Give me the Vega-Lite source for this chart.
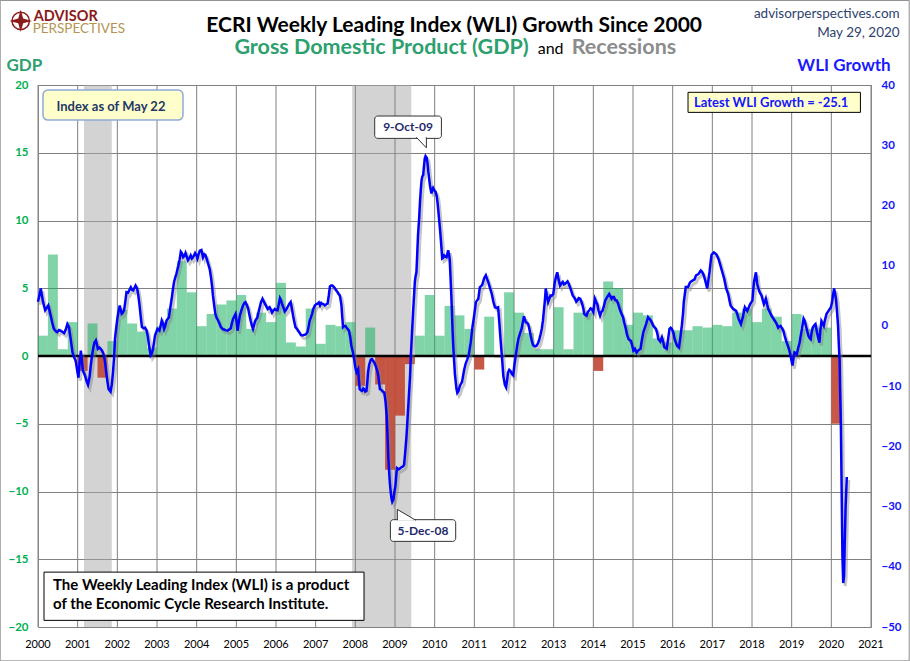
{
  "$schema": "https://vega.github.io/schema/vega-lite/v6.json",
  "width": 833,
  "height": 542,
  "autosize": {"type": "none"},
  "padding": {"left": 38, "top": 85, "right": 39, "bottom": 34},
  "background": "white",
  "config": {
    "font": "Lato",
    "view": {"stroke": "#8c8c8c", "strokeWidth": 1}
  },
  "datasets": {
    "years": [
      {"year": 2000}, {"year": 2001}, {"year": 2002}, {"year": 2003}, {"year": 2004}, {"year": 2005},
      {"year": 2006}, {"year": 2007}, {"year": 2008}, {"year": 2009}, {"year": 2010}, {"year": 2011},
      {"year": 2012}, {"year": 2013}, {"year": 2014}, {"year": 2015}, {"year": 2016}, {"year": 2017},
      {"year": 2018}, {"year": 2019}, {"year": 2020}, {"year": 2021}
    ],
    "recessions": [
      {"start": 2001.16, "end": 2001.86},
      {"start": 2007.92, "end": 2009.41}
    ],
    "gdp": [
      {"t0": 2000.00, "t1": 2000.25, "gdp": 1.5},
      {"t0": 2000.25, "t1": 2000.50, "gdp": 7.5},
      {"t0": 2000.50, "t1": 2000.75, "gdp": 0.5},
      {"t0": 2000.75, "t1": 2001.00, "gdp": 2.5},
      {"t0": 2001.00, "t1": 2001.25, "gdp": -1.1},
      {"t0": 2001.25, "t1": 2001.50, "gdp": 2.4},
      {"t0": 2001.50, "t1": 2001.75, "gdp": -1.6},
      {"t0": 2001.75, "t1": 2002.00, "gdp": 1.1},
      {"t0": 2002.00, "t1": 2002.25, "gdp": 3.4},
      {"t0": 2002.25, "t1": 2002.50, "gdp": 2.4},
      {"t0": 2002.50, "t1": 2002.75, "gdp": 1.8},
      {"t0": 2002.75, "t1": 2003.00, "gdp": 0.6},
      {"t0": 2003.00, "t1": 2003.25, "gdp": 2.2},
      {"t0": 2003.25, "t1": 2003.50, "gdp": 3.5},
      {"t0": 2003.50, "t1": 2003.75, "gdp": 7.0},
      {"t0": 2003.75, "t1": 2004.00, "gdp": 4.7},
      {"t0": 2004.00, "t1": 2004.25, "gdp": 2.2},
      {"t0": 2004.25, "t1": 2004.50, "gdp": 3.1},
      {"t0": 2004.50, "t1": 2004.75, "gdp": 3.8},
      {"t0": 2004.75, "t1": 2005.00, "gdp": 4.1},
      {"t0": 2005.00, "t1": 2005.25, "gdp": 4.5},
      {"t0": 2005.25, "t1": 2005.50, "gdp": 2.0},
      {"t0": 2005.50, "t1": 2005.75, "gdp": 3.2},
      {"t0": 2005.75, "t1": 2006.00, "gdp": 2.5},
      {"t0": 2006.00, "t1": 2006.25, "gdp": 5.4},
      {"t0": 2006.25, "t1": 2006.50, "gdp": 1.0},
      {"t0": 2006.50, "t1": 2006.75, "gdp": 0.7},
      {"t0": 2006.75, "t1": 2007.00, "gdp": 3.5},
      {"t0": 2007.00, "t1": 2007.25, "gdp": 0.9},
      {"t0": 2007.25, "t1": 2007.50, "gdp": 2.3},
      {"t0": 2007.50, "t1": 2007.75, "gdp": 2.2},
      {"t0": 2007.75, "t1": 2008.00, "gdp": 2.5},
      {"t0": 2008.00, "t1": 2008.25, "gdp": -2.2},
      {"t0": 2008.25, "t1": 2008.50, "gdp": 2.1},
      {"t0": 2008.50, "t1": 2008.75, "gdp": -2.1},
      {"t0": 2008.75, "t1": 2009.00, "gdp": -8.4},
      {"t0": 2009.00, "t1": 2009.25, "gdp": -4.4},
      {"t0": 2009.25, "t1": 2009.50, "gdp": -0.6},
      {"t0": 2009.50, "t1": 2009.75, "gdp": 1.5},
      {"t0": 2009.75, "t1": 2010.00, "gdp": 4.5},
      {"t0": 2010.00, "t1": 2010.25, "gdp": 1.5},
      {"t0": 2010.25, "t1": 2010.50, "gdp": 3.7},
      {"t0": 2010.50, "t1": 2010.75, "gdp": 3.0},
      {"t0": 2010.75, "t1": 2011.00, "gdp": 2.0},
      {"t0": 2011.00, "t1": 2011.25, "gdp": -1.0},
      {"t0": 2011.25, "t1": 2011.50, "gdp": 2.9},
      {"t0": 2011.50, "t1": 2011.75, "gdp": -0.1},
      {"t0": 2011.75, "t1": 2012.00, "gdp": 4.7},
      {"t0": 2012.00, "t1": 2012.25, "gdp": 3.2},
      {"t0": 2012.25, "t1": 2012.50, "gdp": 1.7},
      {"t0": 2012.50, "t1": 2012.75, "gdp": 0.5},
      {"t0": 2012.75, "t1": 2013.00, "gdp": 0.5},
      {"t0": 2013.00, "t1": 2013.25, "gdp": 3.6},
      {"t0": 2013.25, "t1": 2013.50, "gdp": 0.5},
      {"t0": 2013.50, "t1": 2013.75, "gdp": 3.2},
      {"t0": 2013.75, "t1": 2014.00, "gdp": 3.2},
      {"t0": 2014.00, "t1": 2014.25, "gdp": -1.1},
      {"t0": 2014.25, "t1": 2014.50, "gdp": 5.5},
      {"t0": 2014.50, "t1": 2014.75, "gdp": 5.0},
      {"t0": 2014.75, "t1": 2015.00, "gdp": 2.3},
      {"t0": 2015.00, "t1": 2015.25, "gdp": 3.2},
      {"t0": 2015.25, "t1": 2015.50, "gdp": 3.0},
      {"t0": 2015.50, "t1": 2015.75, "gdp": 1.3},
      {"t0": 2015.75, "t1": 2016.00, "gdp": 1.0},
      {"t0": 2016.00, "t1": 2016.25, "gdp": 1.9},
      {"t0": 2016.25, "t1": 2016.50, "gdp": 1.9},
      {"t0": 2016.50, "t1": 2016.75, "gdp": 2.2},
      {"t0": 2016.75, "t1": 2017.00, "gdp": 2.1},
      {"t0": 2017.00, "t1": 2017.25, "gdp": 2.3},
      {"t0": 2017.25, "t1": 2017.50, "gdp": 2.2},
      {"t0": 2017.50, "t1": 2017.75, "gdp": 3.2},
      {"t0": 2017.75, "t1": 2018.00, "gdp": 3.5},
      {"t0": 2018.00, "t1": 2018.25, "gdp": 2.5},
      {"t0": 2018.25, "t1": 2018.50, "gdp": 3.5},
      {"t0": 2018.50, "t1": 2018.75, "gdp": 2.9},
      {"t0": 2018.75, "t1": 2019.00, "gdp": 1.1},
      {"t0": 2019.00, "t1": 2019.25, "gdp": 3.1},
      {"t0": 2019.25, "t1": 2019.50, "gdp": 2.0},
      {"t0": 2019.50, "t1": 2019.75, "gdp": 2.1},
      {"t0": 2019.75, "t1": 2020.00, "gdp": 2.1},
      {"t0": 2020.00, "t1": 2020.25, "gdp": -5.0}
    ],
    "wli": [
      {"t": 2000.00, "w": 4.0}, {"t": 2000.04, "w": 5.2}, {"t": 2000.07, "w": 6.2}, {"t": 2000.10, "w": 5.0},
      {"t": 2000.13, "w": 3.9}, {"t": 2000.18, "w": 2.6}, {"t": 2000.22, "w": 3.0}, {"t": 2000.26, "w": 3.4},
      {"t": 2000.32, "w": 1.7}, {"t": 2000.36, "w": 0.5}, {"t": 2000.40, "w": -0.5}, {"t": 2000.45, "w": -0.9},
      {"t": 2000.49, "w": -1.05}, {"t": 2000.53, "w": -0.7}, {"t": 2000.57, "w": -0.8}, {"t": 2000.62, "w": -1.0},
      {"t": 2000.66, "w": -1.2}, {"t": 2000.70, "w": -0.6}, {"t": 2000.74, "w": 0.3}, {"t": 2000.78, "w": -0.2},
      {"t": 2000.82, "w": -2.0}, {"t": 2000.87, "w": -4.4}, {"t": 2000.91, "w": -5.2}, {"t": 2000.95, "w": -5.8},
      {"t": 2000.99, "w": -7.5}, {"t": 2001.02, "w": -8.6}, {"t": 2001.05, "w": -6.0}, {"t": 2001.08, "w": -4.1},
      {"t": 2001.11, "w": -6.0}, {"t": 2001.13, "w": -7.4}, {"t": 2001.17, "w": -8.0}, {"t": 2001.20, "w": -8.6},
      {"t": 2001.23, "w": -9.3}, {"t": 2001.26, "w": -9.8}, {"t": 2001.30, "w": -8.5}, {"t": 2001.33, "w": -6.6},
      {"t": 2001.36, "w": -5.0}, {"t": 2001.39, "w": -3.8}, {"t": 2001.42, "w": -2.8}, {"t": 2001.46, "w": -2.4},
      {"t": 2001.49, "w": -3.2}, {"t": 2001.51, "w": -3.8}, {"t": 2001.55, "w": -3.6}, {"t": 2001.58, "w": -3.8},
      {"t": 2001.62, "w": -4.2}, {"t": 2001.66, "w": -4.9}, {"t": 2001.69, "w": -6.0}, {"t": 2001.72, "w": -7.7},
      {"t": 2001.75, "w": -9.2}, {"t": 2001.78, "w": -10.5}, {"t": 2001.83, "w": -10.9}, {"t": 2001.86, "w": -9.8},
      {"t": 2001.89, "w": -7.7}, {"t": 2001.92, "w": -5.0}, {"t": 2001.94, "w": -2.2}, {"t": 2001.97, "w": -0.4},
      {"t": 2002.00, "w": 1.2}, {"t": 2002.03, "w": 2.4}, {"t": 2002.06, "w": 3.4}, {"t": 2002.11, "w": 2.0},
      {"t": 2002.14, "w": 2.2}, {"t": 2002.17, "w": 2.6}, {"t": 2002.20, "w": 4.0}, {"t": 2002.23, "w": 5.6},
      {"t": 2002.27, "w": 5.5}, {"t": 2002.30, "w": 5.9}, {"t": 2002.34, "w": 6.4}, {"t": 2002.37, "w": 6.0},
      {"t": 2002.40, "w": 5.9}, {"t": 2002.43, "w": 6.3}, {"t": 2002.46, "w": 6.7}, {"t": 2002.50, "w": 6.2},
      {"t": 2002.53, "w": 5.0}, {"t": 2002.56, "w": 3.4}, {"t": 2002.59, "w": 1.5}, {"t": 2002.62, "w": -0.2},
      {"t": 2002.67, "w": -0.4}, {"t": 2002.70, "w": -0.3}, {"t": 2002.74, "w": -0.8}, {"t": 2002.77, "w": -1.8},
      {"t": 2002.80, "w": -3.3}, {"t": 2002.84, "w": -4.9}, {"t": 2002.87, "w": -4.6}, {"t": 2002.90, "w": -3.8},
      {"t": 2002.95, "w": -1.6}, {"t": 2003.01, "w": -0.5}, {"t": 2003.06, "w": -0.8}, {"t": 2003.09, "w": 0.0},
      {"t": 2003.12, "w": 0.9}, {"t": 2003.15, "w": 0.4}, {"t": 2003.18, "w": -0.5}, {"t": 2003.21, "w": 0.0},
      {"t": 2003.24, "w": 0.9}, {"t": 2003.30, "w": 1.4}, {"t": 2003.33, "w": 2.8}, {"t": 2003.37, "w": 4.5},
      {"t": 2003.40, "w": 6.0}, {"t": 2003.43, "w": 7.3}, {"t": 2003.46, "w": 8.0}, {"t": 2003.49, "w": 8.7},
      {"t": 2003.54, "w": 10.05}, {"t": 2003.57, "w": 11.0}, {"t": 2003.60, "w": 12.3}, {"t": 2003.63, "w": 12.0},
      {"t": 2003.66, "w": 11.4}, {"t": 2003.69, "w": 11.6}, {"t": 2003.72, "w": 12.1}, {"t": 2003.75, "w": 11.5},
      {"t": 2003.78, "w": 10.9}, {"t": 2003.82, "w": 11.3}, {"t": 2003.85, "w": 11.7}, {"t": 2003.88, "w": 11.2},
      {"t": 2003.91, "w": 11.4}, {"t": 2003.96, "w": 12.1}, {"t": 2004.00, "w": 11.6}, {"t": 2004.02, "w": 11.2},
      {"t": 2004.05, "w": 11.9}, {"t": 2004.08, "w": 12.5}, {"t": 2004.12, "w": 12.6}, {"t": 2004.16, "w": 11.4},
      {"t": 2004.19, "w": 11.9}, {"t": 2004.22, "w": 11.8}, {"t": 2004.25, "w": 11.2}, {"t": 2004.29, "w": 10.3},
      {"t": 2004.33, "w": 9.4}, {"t": 2004.36, "w": 8.1}, {"t": 2004.39, "w": 6.5}, {"t": 2004.41, "w": 5.05},
      {"t": 2004.44, "w": 3.5}, {"t": 2004.47, "w": 2.0}, {"t": 2004.50, "w": 1.4}, {"t": 2004.54, "w": 0.9},
      {"t": 2004.58, "w": 0.3}, {"t": 2004.61, "w": -0.2}, {"t": 2004.65, "w": -0.5}, {"t": 2004.69, "w": -0.6},
      {"t": 2004.73, "w": -0.7}, {"t": 2004.78, "w": -0.8}, {"t": 2004.82, "w": -0.6}, {"t": 2004.86, "w": -0.4},
      {"t": 2004.89, "w": 0.5}, {"t": 2004.92, "w": 1.2}, {"t": 2004.95, "w": 1.6}, {"t": 2004.98, "w": 2.0},
      {"t": 2005.01, "w": 0.6}, {"t": 2005.03, "w": -0.8}, {"t": 2005.06, "w": 0.5}, {"t": 2005.09, "w": 1.7},
      {"t": 2005.13, "w": 2.6}, {"t": 2005.17, "w": 3.4}, {"t": 2005.20, "w": 3.8}, {"t": 2005.23, "w": 3.95},
      {"t": 2005.27, "w": 3.4}, {"t": 2005.30, "w": 2.8}, {"t": 2005.33, "w": 1.8}, {"t": 2005.36, "w": 0.9},
      {"t": 2005.39, "w": 0.1}, {"t": 2005.42, "w": -0.5}, {"t": 2005.45, "w": 0.2}, {"t": 2005.48, "w": 0.9},
      {"t": 2005.53, "w": 1.4}, {"t": 2005.56, "w": 2.3}, {"t": 2005.59, "w": 3.1}, {"t": 2005.62, "w": 3.9},
      {"t": 2005.66, "w": 4.5}, {"t": 2005.69, "w": 4.1}, {"t": 2005.72, "w": 3.7}, {"t": 2005.76, "w": 3.2},
      {"t": 2005.79, "w": 2.8}, {"t": 2005.84, "w": 3.1}, {"t": 2005.87, "w": 2.7}, {"t": 2005.90, "w": 2.2},
      {"t": 2005.94, "w": 2.6}, {"t": 2005.97, "w": 2.8}, {"t": 2006.01, "w": 2.6}, {"t": 2006.04, "w": 2.6},
      {"t": 2006.07, "w": 3.6}, {"t": 2006.10, "w": 4.6}, {"t": 2006.13, "w": 4.2}, {"t": 2006.15, "w": 3.7},
      {"t": 2006.19, "w": 3.0}, {"t": 2006.22, "w": 2.4}, {"t": 2006.26, "w": 2.7}, {"t": 2006.29, "w": 3.1},
      {"t": 2006.33, "w": 3.6}, {"t": 2006.37, "w": 3.95}, {"t": 2006.40, "w": 2.9}, {"t": 2006.43, "w": 1.7},
      {"t": 2006.46, "w": 0.7}, {"t": 2006.49, "w": -0.2}, {"t": 2006.53, "w": -0.5}, {"t": 2006.56, "w": -0.8},
      {"t": 2006.60, "w": -1.2}, {"t": 2006.63, "w": -1.5}, {"t": 2006.67, "w": -1.6}, {"t": 2006.71, "w": -1.5},
      {"t": 2006.75, "w": -1.4}, {"t": 2006.79, "w": -1.1}, {"t": 2006.82, "w": -0.2}, {"t": 2006.85, "w": 0.9},
      {"t": 2006.88, "w": 1.4}, {"t": 2006.91, "w": 2.0}, {"t": 2006.94, "w": 2.8}, {"t": 2006.98, "w": 3.4},
      {"t": 2007.01, "w": 3.6}, {"t": 2007.05, "w": 3.7}, {"t": 2007.08, "w": 3.9}, {"t": 2007.11, "w": 3.4},
      {"t": 2007.14, "w": 3.8}, {"t": 2007.16, "w": 3.7}, {"t": 2007.20, "w": 3.6}, {"t": 2007.23, "w": 3.4},
      {"t": 2007.27, "w": 3.6}, {"t": 2007.30, "w": 3.7}, {"t": 2007.33, "w": 5.0}, {"t": 2007.36, "w": 6.55},
      {"t": 2007.39, "w": 6.7}, {"t": 2007.42, "w": 6.7}, {"t": 2007.45, "w": 6.5}, {"t": 2007.48, "w": 6.3},
      {"t": 2007.52, "w": 5.9}, {"t": 2007.55, "w": 5.6}, {"t": 2007.58, "w": 5.3}, {"t": 2007.61, "w": 5.05},
      {"t": 2007.63, "w": 4.3}, {"t": 2007.65, "w": 3.4}, {"t": 2007.67, "w": 1.5}, {"t": 2007.69, "w": -0.2},
      {"t": 2007.72, "w": 0.0}, {"t": 2007.75, "w": 0.0}, {"t": 2007.79, "w": -0.4}, {"t": 2007.82, "w": -0.6},
      {"t": 2007.84, "w": -0.8}, {"t": 2007.87, "w": -1.8}, {"t": 2007.90, "w": -3.3}, {"t": 2007.94, "w": -4.4},
      {"t": 2007.97, "w": -5.5}, {"t": 2008.00, "w": -6.9}, {"t": 2008.03, "w": -7.7}, {"t": 2008.07, "w": -7.2},
      {"t": 2008.09, "w": -9.0}, {"t": 2008.11, "w": -10.5}, {"t": 2008.14, "w": -10.7}, {"t": 2008.17, "w": -10.8},
      {"t": 2008.20, "w": -10.4}, {"t": 2008.22, "w": -10.5}, {"t": 2008.25, "w": -10.9}, {"t": 2008.28, "w": -10.8},
      {"t": 2008.30, "w": -9.5}, {"t": 2008.32, "w": -7.7}, {"t": 2008.35, "w": -6.4}, {"t": 2008.39, "w": -5.6},
      {"t": 2008.42, "w": -5.5}, {"t": 2008.45, "w": -5.8}, {"t": 2008.48, "w": -6.1}, {"t": 2008.51, "w": -6.6},
      {"t": 2008.55, "w": -7.4}, {"t": 2008.58, "w": -8.3}, {"t": 2008.62, "w": -10.5}, {"t": 2008.65, "w": -10.6},
      {"t": 2008.68, "w": -10.8}, {"t": 2008.73, "w": -11.1}, {"t": 2008.76, "w": -12.5}, {"t": 2008.79, "w": -14.9},
      {"t": 2008.81, "w": -18.0}, {"t": 2008.83, "w": -21.6}, {"t": 2008.85, "w": -24.0}, {"t": 2008.87, "w": -26.05},
      {"t": 2008.89, "w": -27.5}, {"t": 2008.91, "w": -28.6}, {"t": 2008.93, "w": -29.2}, {"t": 2008.96, "w": -28.8},
      {"t": 2008.98, "w": -27.8}, {"t": 2009.01, "w": -26.6}, {"t": 2009.03, "w": -25.0}, {"t": 2009.05, "w": -23.6},
      {"t": 2009.09, "w": -23.8}, {"t": 2009.12, "w": -23.7}, {"t": 2009.15, "w": -23.5}, {"t": 2009.18, "w": -23.4},
      {"t": 2009.21, "w": -23.3}, {"t": 2009.23, "w": -23.0}, {"t": 2009.26, "w": -20.8}, {"t": 2009.29, "w": -18.3},
      {"t": 2009.32, "w": -15.0}, {"t": 2009.35, "w": -11.6}, {"t": 2009.38, "w": -8.3}, {"t": 2009.40, "w": -4.95},
      {"t": 2009.43, "w": -1.0}, {"t": 2009.46, "w": 2.8}, {"t": 2009.48, "w": 5.0}, {"t": 2009.50, "w": 7.3},
      {"t": 2009.52, "w": 8.3}, {"t": 2009.54, "w": 8.9}, {"t": 2009.56, "w": 11.9}, {"t": 2009.58, "w": 15.05},
      {"t": 2009.61, "w": 18.0}, {"t": 2009.63, "w": 20.6}, {"t": 2009.65, "w": 22.6}, {"t": 2009.67, "w": 24.2},
      {"t": 2009.69, "w": 24.8}, {"t": 2009.71, "w": 25.05}, {"t": 2009.73, "w": 26.5}, {"t": 2009.75, "w": 27.8},
      {"t": 2009.77, "w": 28.2}, {"t": 2009.80, "w": 27.9}, {"t": 2009.82, "w": 27.0}, {"t": 2009.84, "w": 25.6},
      {"t": 2009.86, "w": 24.5}, {"t": 2009.88, "w": 23.4}, {"t": 2009.90, "w": 22.6}, {"t": 2009.92, "w": 22.0},
      {"t": 2009.94, "w": 22.6}, {"t": 2009.96, "w": 22.9}, {"t": 2009.99, "w": 22.5}, {"t": 2010.02, "w": 22.3},
      {"t": 2010.05, "w": 21.6}, {"t": 2010.07, "w": 20.6}, {"t": 2010.09, "w": 19.3}, {"t": 2010.11, "w": 17.8},
      {"t": 2010.14, "w": 15.6}, {"t": 2010.16, "w": 13.95}, {"t": 2010.19, "w": 11.2}, {"t": 2010.21, "w": 11.3},
      {"t": 2010.24, "w": 11.7}, {"t": 2010.27, "w": 11.5}, {"t": 2010.30, "w": 11.4}, {"t": 2010.34, "w": 12.55},
      {"t": 2010.36, "w": 12.0}, {"t": 2010.38, "w": 11.0}, {"t": 2010.40, "w": 8.0}, {"t": 2010.42, "w": 5.0},
      {"t": 2010.45, "w": -0.5}, {"t": 2010.47, "w": -3.5}, {"t": 2010.51, "w": -8.0}, {"t": 2010.55, "w": -10.5},
      {"t": 2010.57, "w": -11.1}, {"t": 2010.60, "w": -10.8}, {"t": 2010.64, "w": -9.9}, {"t": 2010.69, "w": -9.3},
      {"t": 2010.74, "w": -7.4}, {"t": 2010.78, "w": -6.3}, {"t": 2010.82, "w": -5.6}, {"t": 2010.86, "w": -4.8},
      {"t": 2010.91, "w": -2.7}, {"t": 2010.95, "w": -0.3}, {"t": 2010.99, "w": 1.45}, {"t": 2011.04, "w": 3.95},
      {"t": 2011.10, "w": 4.5}, {"t": 2011.14, "w": 6.4}, {"t": 2011.20, "w": 6.8}, {"t": 2011.25, "w": 7.95},
      {"t": 2011.29, "w": 8.4}, {"t": 2011.32, "w": 7.8}, {"t": 2011.35, "w": 7.3}, {"t": 2011.40, "w": 6.2},
      {"t": 2011.44, "w": 5.3}, {"t": 2011.48, "w": 4.0}, {"t": 2011.52, "w": 3.1}, {"t": 2011.56, "w": 3.0},
      {"t": 2011.60, "w": 3.1}, {"t": 2011.63, "w": 0.5}, {"t": 2011.66, "w": -2.2}, {"t": 2011.70, "w": -5.5},
      {"t": 2011.73, "w": -8.3}, {"t": 2011.77, "w": -9.8}, {"t": 2011.80, "w": -10.2}, {"t": 2011.83, "w": -8.8},
      {"t": 2011.85, "w": -7.7}, {"t": 2011.88, "w": -7.3}, {"t": 2011.91, "w": -7.5}, {"t": 2011.95, "w": -8.0},
      {"t": 2011.98, "w": -8.2}, {"t": 2012.01, "w": -6.5}, {"t": 2012.05, "w": -4.7}, {"t": 2012.08, "w": -3.3},
      {"t": 2012.11, "w": -2.2}, {"t": 2012.15, "w": -1.3}, {"t": 2012.19, "w": -0.5}, {"t": 2012.22, "w": 0.5},
      {"t": 2012.25, "w": 1.6}, {"t": 2012.28, "w": 1.0}, {"t": 2012.30, "w": 0.6}, {"t": 2012.33, "w": 0.5},
      {"t": 2012.36, "w": 0.3}, {"t": 2012.39, "w": -0.6}, {"t": 2012.42, "w": -1.6}, {"t": 2012.45, "w": -2.5},
      {"t": 2012.48, "w": -3.2}, {"t": 2012.53, "w": -3.4}, {"t": 2012.57, "w": -3.3}, {"t": 2012.61, "w": -2.8},
      {"t": 2012.64, "w": -2.2}, {"t": 2012.67, "w": -1.4}, {"t": 2012.70, "w": -0.5}, {"t": 2012.73, "w": 0.9},
      {"t": 2012.75, "w": 2.3}, {"t": 2012.78, "w": 4.3}, {"t": 2012.80, "w": 6.2}, {"t": 2012.83, "w": 5.0},
      {"t": 2012.86, "w": 3.95}, {"t": 2012.89, "w": 4.5}, {"t": 2012.92, "w": 5.05}, {"t": 2012.95, "w": 5.0},
      {"t": 2012.99, "w": 5.3}, {"t": 2013.03, "w": 7.3}, {"t": 2013.06, "w": 8.2}, {"t": 2013.09, "w": 8.9},
      {"t": 2013.12, "w": 7.8}, {"t": 2013.16, "w": 6.7}, {"t": 2013.19, "w": 7.0}, {"t": 2013.23, "w": 7.3},
      {"t": 2013.26, "w": 6.9}, {"t": 2013.29, "w": 7.0}, {"t": 2013.32, "w": 7.2}, {"t": 2013.35, "w": 7.4},
      {"t": 2013.38, "w": 7.0}, {"t": 2013.41, "w": 6.45}, {"t": 2013.45, "w": 5.7}, {"t": 2013.48, "w": 5.05},
      {"t": 2013.51, "w": 4.8}, {"t": 2013.54, "w": 4.5}, {"t": 2013.57, "w": 4.0}, {"t": 2013.60, "w": 4.2},
      {"t": 2013.63, "w": 4.6}, {"t": 2013.67, "w": 4.5}, {"t": 2013.70, "w": 4.0}, {"t": 2013.72, "w": 3.6},
      {"t": 2013.75, "w": 2.8}, {"t": 2013.77, "w": 2.0}, {"t": 2013.80, "w": 1.8}, {"t": 2013.83, "w": 1.7},
      {"t": 2013.86, "w": 2.3}, {"t": 2013.89, "w": 2.5}, {"t": 2013.93, "w": 2.9}, {"t": 2013.96, "w": 2.8},
      {"t": 2014.00, "w": 2.3}, {"t": 2014.02, "w": 3.5}, {"t": 2014.04, "w": 4.5}, {"t": 2014.07, "w": 4.0},
      {"t": 2014.10, "w": 3.6}, {"t": 2014.13, "w": 2.6}, {"t": 2014.17, "w": 1.7}, {"t": 2014.20, "w": 2.3},
      {"t": 2014.23, "w": 2.5}, {"t": 2014.27, "w": 3.4}, {"t": 2014.30, "w": 4.2}, {"t": 2014.35, "w": 4.8},
      {"t": 2014.40, "w": 5.3}, {"t": 2014.43, "w": 4.9}, {"t": 2014.46, "w": 4.5}, {"t": 2014.49, "w": 4.8},
      {"t": 2014.52, "w": 4.8}, {"t": 2014.55, "w": 4.3}, {"t": 2014.59, "w": 4.2}, {"t": 2014.62, "w": 3.8},
      {"t": 2014.65, "w": 3.1}, {"t": 2014.68, "w": 2.5}, {"t": 2014.71, "w": 2.0}, {"t": 2014.75, "w": 1.45},
      {"t": 2014.78, "w": 0.5}, {"t": 2014.82, "w": -0.5}, {"t": 2014.85, "w": -1.5}, {"t": 2014.89, "w": -2.2},
      {"t": 2014.95, "w": -2.5}, {"t": 2014.98, "w": -3.3}, {"t": 2015.01, "w": -4.1}, {"t": 2015.05, "w": -3.8},
      {"t": 2015.09, "w": -4.4}, {"t": 2015.13, "w": -4.1}, {"t": 2015.19, "w": -3.8}, {"t": 2015.22, "w": -2.5},
      {"t": 2015.26, "w": -1.05}, {"t": 2015.30, "w": -0.3}, {"t": 2015.33, "w": 0.3}, {"t": 2015.38, "w": 1.45},
      {"t": 2015.41, "w": 1.2}, {"t": 2015.44, "w": 1.0}, {"t": 2015.48, "w": 0.5}, {"t": 2015.51, "w": 0.0},
      {"t": 2015.58, "w": -0.5}, {"t": 2015.61, "w": -1.2}, {"t": 2015.64, "w": -2.2}, {"t": 2015.69, "w": -2.6},
      {"t": 2015.73, "w": -1.9}, {"t": 2015.76, "w": -2.6}, {"t": 2015.79, "w": -3.55}, {"t": 2015.85, "w": -3.8},
      {"t": 2015.88, "w": -2.4}, {"t": 2015.92, "w": -0.5}, {"t": 2015.95, "w": -0.3}, {"t": 2015.98, "w": -0.5},
      {"t": 2016.02, "w": -1.2}, {"t": 2016.05, "w": -2.2}, {"t": 2016.11, "w": -3.3}, {"t": 2016.16, "w": -3.6},
      {"t": 2016.20, "w": -1.6}, {"t": 2016.23, "w": 0.0}, {"t": 2016.26, "w": 2.0}, {"t": 2016.28, "w": 3.95},
      {"t": 2016.33, "w": 6.45}, {"t": 2016.39, "w": 6.45}, {"t": 2016.42, "w": 7.0}, {"t": 2016.45, "w": 7.3},
      {"t": 2016.52, "w": 7.6}, {"t": 2016.55, "w": 7.7}, {"t": 2016.59, "w": 8.4}, {"t": 2016.65, "w": 8.6},
      {"t": 2016.68, "w": 8.9}, {"t": 2016.71, "w": 9.2}, {"t": 2016.74, "w": 9.0}, {"t": 2016.77, "w": 8.6},
      {"t": 2016.80, "w": 8.0}, {"t": 2016.83, "w": 7.3}, {"t": 2016.87, "w": 6.2}, {"t": 2016.90, "w": 7.6},
      {"t": 2016.93, "w": 9.0}, {"t": 2016.96, "w": 10.8}, {"t": 2016.98, "w": 11.8}, {"t": 2017.04, "w": 12.2},
      {"t": 2017.08, "w": 12.0}, {"t": 2017.11, "w": 11.8}, {"t": 2017.15, "w": 11.2}, {"t": 2017.18, "w": 10.6},
      {"t": 2017.24, "w": 9.2}, {"t": 2017.30, "w": 7.8}, {"t": 2017.35, "w": 6.2}, {"t": 2017.40, "w": 5.3},
      {"t": 2017.43, "w": 4.3}, {"t": 2017.46, "w": 3.4}, {"t": 2017.50, "w": 3.0}, {"t": 2017.53, "w": 2.8},
      {"t": 2017.60, "w": 2.5}, {"t": 2017.63, "w": 1.9}, {"t": 2017.66, "w": 1.2}, {"t": 2017.72, "w": 0.3},
      {"t": 2017.77, "w": 1.45}, {"t": 2017.80, "w": 2.5}, {"t": 2017.82, "w": 3.1}, {"t": 2017.85, "w": 2.8},
      {"t": 2017.88, "w": 2.5}, {"t": 2017.92, "w": 3.1}, {"t": 2017.95, "w": 3.6}, {"t": 2018.01, "w": 4.2},
      {"t": 2018.03, "w": 5.8}, {"t": 2018.05, "w": 7.3}, {"t": 2018.08, "w": 8.3}, {"t": 2018.10, "w": 8.9},
      {"t": 2018.13, "w": 7.0}, {"t": 2018.18, "w": 5.8}, {"t": 2018.21, "w": 5.4}, {"t": 2018.24, "w": 5.05},
      {"t": 2018.27, "w": 4.3}, {"t": 2018.30, "w": 3.6}, {"t": 2018.33, "w": 4.1}, {"t": 2018.35, "w": 4.5},
      {"t": 2018.38, "w": 3.6}, {"t": 2018.41, "w": 2.8}, {"t": 2018.44, "w": 2.4}, {"t": 2018.47, "w": 2.0},
      {"t": 2018.50, "w": 1.6}, {"t": 2018.54, "w": 1.2}, {"t": 2018.57, "w": 0.9}, {"t": 2018.60, "w": 0.6},
      {"t": 2018.63, "w": 0.2}, {"t": 2018.66, "w": -0.3}, {"t": 2018.69, "w": -0.1}, {"t": 2018.72, "w": 0.0},
      {"t": 2018.76, "w": -0.4}, {"t": 2018.79, "w": -0.8}, {"t": 2018.82, "w": -1.6}, {"t": 2018.86, "w": -2.5},
      {"t": 2018.92, "w": -3.6}, {"t": 2018.95, "w": -4.3}, {"t": 2018.98, "w": -5.2}, {"t": 2019.02, "w": -6.6},
      {"t": 2019.05, "w": -5.2}, {"t": 2019.07, "w": -4.4}, {"t": 2019.10, "w": -4.5}, {"t": 2019.13, "w": -4.7},
      {"t": 2019.16, "w": -3.8}, {"t": 2019.20, "w": -2.8}, {"t": 2019.23, "w": -1.6}, {"t": 2019.26, "w": -0.5},
      {"t": 2019.30, "w": 1.2}, {"t": 2019.33, "w": 0.8}, {"t": 2019.36, "w": 0.0}, {"t": 2019.39, "w": -0.8},
      {"t": 2019.42, "w": -1.6}, {"t": 2019.45, "w": -2.0}, {"t": 2019.48, "w": -2.2}, {"t": 2019.50, "w": -1.2},
      {"t": 2019.53, "w": -0.3}, {"t": 2019.57, "w": 0.1}, {"t": 2019.60, "w": 0.3}, {"t": 2019.64, "w": -1.1},
      {"t": 2019.67, "w": -2.0}, {"t": 2019.70, "w": -2.8}, {"t": 2019.72, "w": -1.0}, {"t": 2019.75, "w": 0.8},
      {"t": 2019.78, "w": 0.4}, {"t": 2019.81, "w": 0.0}, {"t": 2019.84, "w": 1.0}, {"t": 2019.88, "w": 2.0},
      {"t": 2019.93, "w": 2.5}, {"t": 2019.96, "w": 2.8}, {"t": 2019.99, "w": 3.1}, {"t": 2020.02, "w": 4.0},
      {"t": 2020.04, "w": 5.0}, {"t": 2020.07, "w": 6.2}, {"t": 2020.09, "w": 5.6}, {"t": 2020.12, "w": 4.3},
      {"t": 2020.15, "w": 1.8}, {"t": 2020.17, "w": 0.0}, {"t": 2020.19, "w": -3.3}, {"t": 2020.21, "w": -6.0},
      {"t": 2020.22, "w": -10.0}, {"t": 2020.24, "w": -16.0}, {"t": 2020.26, "w": -27.2}, {"t": 2020.28, "w": -38.3},
      {"t": 2020.30, "w": -42.7}, {"t": 2020.32, "w": -41.6}, {"t": 2020.34, "w": -35.5}, {"t": 2020.36, "w": -30.0},
      {"t": 2020.39, "w": -25.1}
    ]
  },
  "layer": [
    {
      "layer": [
        {
          "data": {"name": "recessions"},
          "mark": {"type": "rect", "color": "#a8a8a8", "opacity": 0.5},
          "encoding": {
            "x": {
              "field": "start",
              "type": "quantitative",
              "scale": {"domain": [2000, 2021], "nice": false, "zero": false},
              "axis": {"title": null, "labels": false, "grid": false, "ticks": false, "domain": false}
            },
            "x2": {"field": "end"}
          }
        },
        {
          "data": {"name": "years"},
          "mark": {"type": "rule", "color": "#808080", "strokeWidth": 1},
          "encoding": {"x": {"field": "year", "type": "quantitative"}}
        },
        {
          "data": {"name": "years"},
          "mark": {"type": "text", "fontSize": 11, "color": "#000000", "baseline": "middle", "align": "center"},
          "encoding": {
            "x": {"field": "year", "type": "quantitative"},
            "y": {"datum": -21.36},
            "text": {"field": "year", "type": "quantitative", "format": "d"}
          }
        },
        {
          "data": {"name": "gdp"},
          "mark": {"type": "rect"},
          "encoding": {
            "x": {"field": "t0", "type": "quantitative"},
            "x2": {"field": "t1"},
            "y": {
              "field": "gdp",
              "type": "quantitative",
              "scale": {"domain": [-20, 20], "nice": false, "zero": false},
              "axis": {
                "values": [-20, -15, -10, -5, 0, 5, 10, 15, 20],
                "title": null,
                "grid": true,
                "gridColor": "#808080",
                "gridOpacity": 1,
                "ticks": false,
                "domain": false,
                "labelFlush": false,
                "labelFontSize": 11.5,
                "labelFontWeight": "bold",
                "labelColor": "#00b050",
                "labelPadding": 10
              }
            },
            "y2": {"datum": 0},
            "fill": {"condition": {"test": "datum.gdp < 0", "value": "#c24a35"}, "value": "#18b161"},
            "fillOpacity": {"condition": {"test": "datum.gdp < 0", "value": 0.92}, "value": 0.55}
          }
        },
        {
          "data": {"values": [{}]},
          "mark": {"type": "rule", "color": "#000000", "strokeWidth": 2.5},
          "encoding": {"y": {"datum": 0}}
        },
        {
          "data": {"values": [{}]},
          "mark": {"type": "rect", "fillOpacity": 0, "stroke": "#8c8c8c", "strokeWidth": 1},
          "encoding": {
            "x": {"datum": 1999.047}, "x2": {"datum": 2021.963},
            "y": {"datum": 26.24}, "y2": {"datum": -22.5}
          }
        },
        {
          "data": {"values": [{}]},
          "mark": {"type": "rect", "fill": "#9a9a9a", "opacity": 0.5, "cornerRadius": 5, "xOffset": 3, "yOffset": 3},
          "encoding": {
            "x": {"datum": 2000.126}, "x2": {"datum": 2003.655},
            "y": {"datum": 19.63}, "y2": {"datum": 17.41}
          }
        },
        {
          "data": {"values": [{}]},
          "mark": {"type": "rect", "fill": "#ffffcc", "stroke": "#8eaad8", "strokeWidth": 1.5, "cornerRadius": 5},
          "encoding": {
            "x": {"datum": 2000.126}, "x2": {"datum": 2003.655},
            "y": {"datum": 19.63}, "y2": {"datum": 17.41}
          }
        },
        {
          "data": {"values": [{}]},
          "mark": {"type": "rect", "fill": "#9a9a9a", "opacity": 0.5, "xOffset": 3, "yOffset": 3},
          "encoding": {
            "x": {"datum": 2016.387}, "x2": {"datum": 2020.733},
            "y": {"datum": 19.46}, "y2": {"datum": 17.98}
          }
        },
        {
          "data": {"values": [{}]},
          "mark": {"type": "rect", "fill": "#ffffcc", "stroke": "#000000", "strokeWidth": 1},
          "encoding": {
            "x": {"datum": 2016.387}, "x2": {"datum": 2020.733},
            "y": {"datum": 19.46}, "y2": {"datum": 17.98}
          }
        },
        {
          "data": {"values": [{}]},
          "mark": {"type": "rect", "fill": "#9a9a9a", "opacity": 0.5, "xOffset": 3, "yOffset": 3},
          "encoding": {
            "x": {"datum": 2000.151}, "x2": {"datum": 2008.219},
            "y": {"datum": -15.95}, "y2": {"datum": -19.51}
          }
        },
        {
          "data": {"values": [{}]},
          "mark": {"type": "rect", "fill": "#ffffff", "stroke": "#000000", "strokeWidth": 1},
          "encoding": {
            "x": {"datum": 2000.151}, "x2": {"datum": 2008.219},
            "y": {"datum": -15.95}, "y2": {"datum": -19.51}
          }
        },
        {
          "data": {"values": [{}]},
          "mark": {"type": "rect", "fill": "#ffffff", "stroke": "#333333", "strokeWidth": 1, "cornerRadius": 3},
          "encoding": {
            "x": {"datum": 2008.488}, "x2": {"datum": 2010.17},
            "y": {"datum": 17.71}, "y2": {"datum": 16.06}
          }
        },
        {
          "data": {"values": [{}]},
          "mark": {"type": "point", "shape": "M -1 -1.1 L 1 1 L 1 -1.1", "size": 100, "filled": true, "fill": "#ffffff", "stroke": "#333333", "strokeWidth": 1, "opacity": 1},
          "encoding": {"x": {"datum": 2009.665}, "y": {"datum": 15.73}}
        },
        {
          "data": {"values": [{}]},
          "mark": {"type": "rect", "fill": "#ffffff", "stroke": "#333333", "strokeWidth": 1, "cornerRadius": 3},
          "encoding": {
            "x": {"datum": 2008.884}, "x2": {"datum": 2010.53},
            "y": {"datum": -12.08}, "y2": {"datum": -13.68}
          }
        },
        {
          "data": {"values": [{}]},
          "mark": {"type": "point", "shape": "M -1 0.62 L -1 -0.56 L 1 0.62", "size": 335, "filled": true, "fill": "#ffffff", "stroke": "#333333", "strokeWidth": 1, "opacity": 1},
          "encoding": {"x": {"datum": 2009.29}, "y": {"datum": -11.7}}
        },
        {
          "data": {"values": [{}]},
          "mark": {"type": "text", "text": "Index as of May 22", "align": "center", "baseline": "alphabetic", "fontSize": 13, "fontWeight": "bold", "color": "#1f3864"},
          "encoding": {"x": {"datum": 2001.84}, "y": {"datum": 18.1}}
        },
        {
          "data": {"values": [{}]},
          "mark": {"type": "text", "text": "Latest WLI Growth = -25.1", "align": "center", "baseline": "alphabetic", "fontSize": 13, "fontWeight": "bold", "color": "#1414ff"},
          "encoding": {"x": {"datum": 2018.484}, "y": {"datum": 18.4}}
        },
        {
          "data": {"values": [{}]},
          "mark": {"type": "text", "text": ["The Weekly Leading Index (WLI) is a product", "of the Economic Cycle Research Institute."], "align": "left", "baseline": "alphabetic", "lineHeight": 19, "fontSize": 15, "fontWeight": "bold", "color": "#000000"},
          "encoding": {"x": {"datum": 2000.378}, "y": {"datum": -17.3}}
        },
        {
          "data": {"values": [{}]},
          "mark": {"type": "text", "text": "9-Oct-09", "align": "center", "baseline": "alphabetic", "fontSize": 12, "fontWeight": "bold", "color": "#1f2a6b"},
          "encoding": {"x": {"datum": 2009.328}, "y": {"datum": 16.62}}
        },
        {
          "data": {"values": [{}]},
          "mark": {"type": "text", "text": "5-Dec-08", "align": "center", "baseline": "alphabetic", "fontSize": 12, "fontWeight": "bold", "color": "#1f2a6b"},
          "encoding": {"x": {"datum": 2009.706}, "y": {"datum": -13.23}}
        },
        {
          "data": {"values": [{}]},
          "mark": {"type": "text", "text": "ECRI Weekly Leading Index (WLI) Growth Since 2000", "align": "center", "baseline": "alphabetic", "fontSize": 21, "fontWeight": "bold", "color": "#000000"},
          "encoding": {"x": {"datum": 2010.492}, "y": {"datum": 23.9}}
        },
        {
          "data": {"values": [{}]},
          "mark": {"type": "text", "text": "Gross Domestic Product (GDP)", "align": "right", "baseline": "alphabetic", "fontSize": 21.5, "fontWeight": "bold", "color": "#2ca06e"},
          "encoding": {"x": {"datum": 2012.371}, "y": {"datum": 22.3}}
        },
        {
          "data": {"values": [{}]},
          "mark": {"type": "text", "text": "and", "align": "left", "baseline": "alphabetic", "fontSize": 16, "color": "#000000"},
          "encoding": {"x": {"datum": 2012.598}, "y": {"datum": 22.3}}
        },
        {
          "data": {"values": [{}]},
          "mark": {"type": "text", "text": "Recessions", "align": "left", "baseline": "alphabetic", "fontSize": 21.5, "fontWeight": "bold", "color": "#8c8c8c"},
          "encoding": {"x": {"datum": 2013.455}, "y": {"datum": 22.3}}
        },
        {
          "data": {"values": [{}]},
          "mark": {"type": "text", "text": "advisorperspectives.com", "align": "right", "baseline": "alphabetic", "fontSize": 13.5, "color": "#2e3f6e"},
          "encoding": {"x": {"datum": 2021.723}, "y": {"datum": 24.93}}
        },
        {
          "data": {"values": [{}]},
          "mark": {"type": "text", "text": "May 29, 2020", "align": "right", "baseline": "alphabetic", "fontSize": 13.5, "color": "#2e3f6e"},
          "encoding": {"x": {"datum": 2021.723}, "y": {"datum": 23.57}}
        },
        {
          "data": {"values": [{}]},
          "mark": {"type": "text", "text": "GDP", "align": "left", "baseline": "alphabetic", "fontSize": 17, "fontWeight": "bold", "color": "#2ca06e"},
          "encoding": {"x": {"datum": 1999.203}, "y": {"datum": 21.03}}
        },
        {
          "data": {"values": [{}]},
          "mark": {"type": "text", "text": "WLI Growth", "align": "right", "baseline": "alphabetic", "fontSize": 17, "fontWeight": "bold", "color": "#1a1aff"},
          "encoding": {"x": {"datum": 2021.497}, "y": {"datum": 21.06}}
        },
        {
          "data": {"values": [{}]},
          "mark": {"type": "point", "shape": "circle", "size": 300, "filled": false, "stroke": "#8b1a1a", "strokeWidth": 1.5, "opacity": 1},
          "encoding": {"x": {"datum": 1999.564}, "y": {"datum": 24.73}}
        },
        {
          "data": {"values": [{}]},
          "mark": {"type": "point", "shape": "M 0 -1 L 0.22 -0.22 L 1 0 L 0.22 0.22 L 0 1 L -0.22 0.22 L -1 0 L -0.22 -0.22 Z", "size": 500, "filled": true, "fill": "#8b1a1a", "opacity": 1},
          "encoding": {"x": {"datum": 1999.564}, "y": {"datum": 24.73}}
        },
        {
          "data": {"values": [{}]},
          "mark": {"type": "text", "text": "ADVISOR", "align": "left", "baseline": "alphabetic", "fontSize": 14.5, "fontWeight": "bold", "color": "#8b1a1a"},
          "encoding": {"x": {"datum": 1999.892}, "y": {"datum": 24.7}}
        },
        {
          "data": {"values": [{}]},
          "mark": {"type": "text", "text": "PERSPECTIVES", "align": "left", "baseline": "alphabetic", "fontSize": 13.5, "color": "#b39552"},
          "encoding": {"x": {"datum": 1999.866}, "y": {"datum": 23.85}}
        }
      ]
    },
    {
      "data": {"name": "wli"},
      "layer": [
        {
          "mark": {"type": "line", "color": "#808080", "opacity": 0.45, "strokeWidth": 3, "xOffset": 2, "yOffset": 3},
          "encoding": {
            "x": {"field": "t", "type": "quantitative", "scale": {"domain": [2000, 2021], "nice": false, "zero": false}},
            "y": {"field": "w", "type": "quantitative", "scale": {"domain": [-50, 40], "nice": false, "zero": false}}
          }
        },
        {
          "mark": {"type": "line", "color": "#0000ff", "strokeWidth": 2.5},
          "encoding": {
            "x": {"field": "t", "type": "quantitative"},
            "y": {
              "field": "w",
              "type": "quantitative",
              "axis": {
                "orient": "right",
                "values": [-50, -40, -30, -20, -10, 0, 10, 20, 30, 40],
                "title": null,
                "grid": false,
                "ticks": false,
                "domain": false,
                "labelFlush": false,
                "labelFontSize": 11.5,
                "labelFontWeight": "bold",
                "labelColor": "#1414ff",
                "labelPadding": 10
              }
            }
          }
        }
      ]
    }
  ],
  "resolve": {"scale": {"y": "independent"}}
}
